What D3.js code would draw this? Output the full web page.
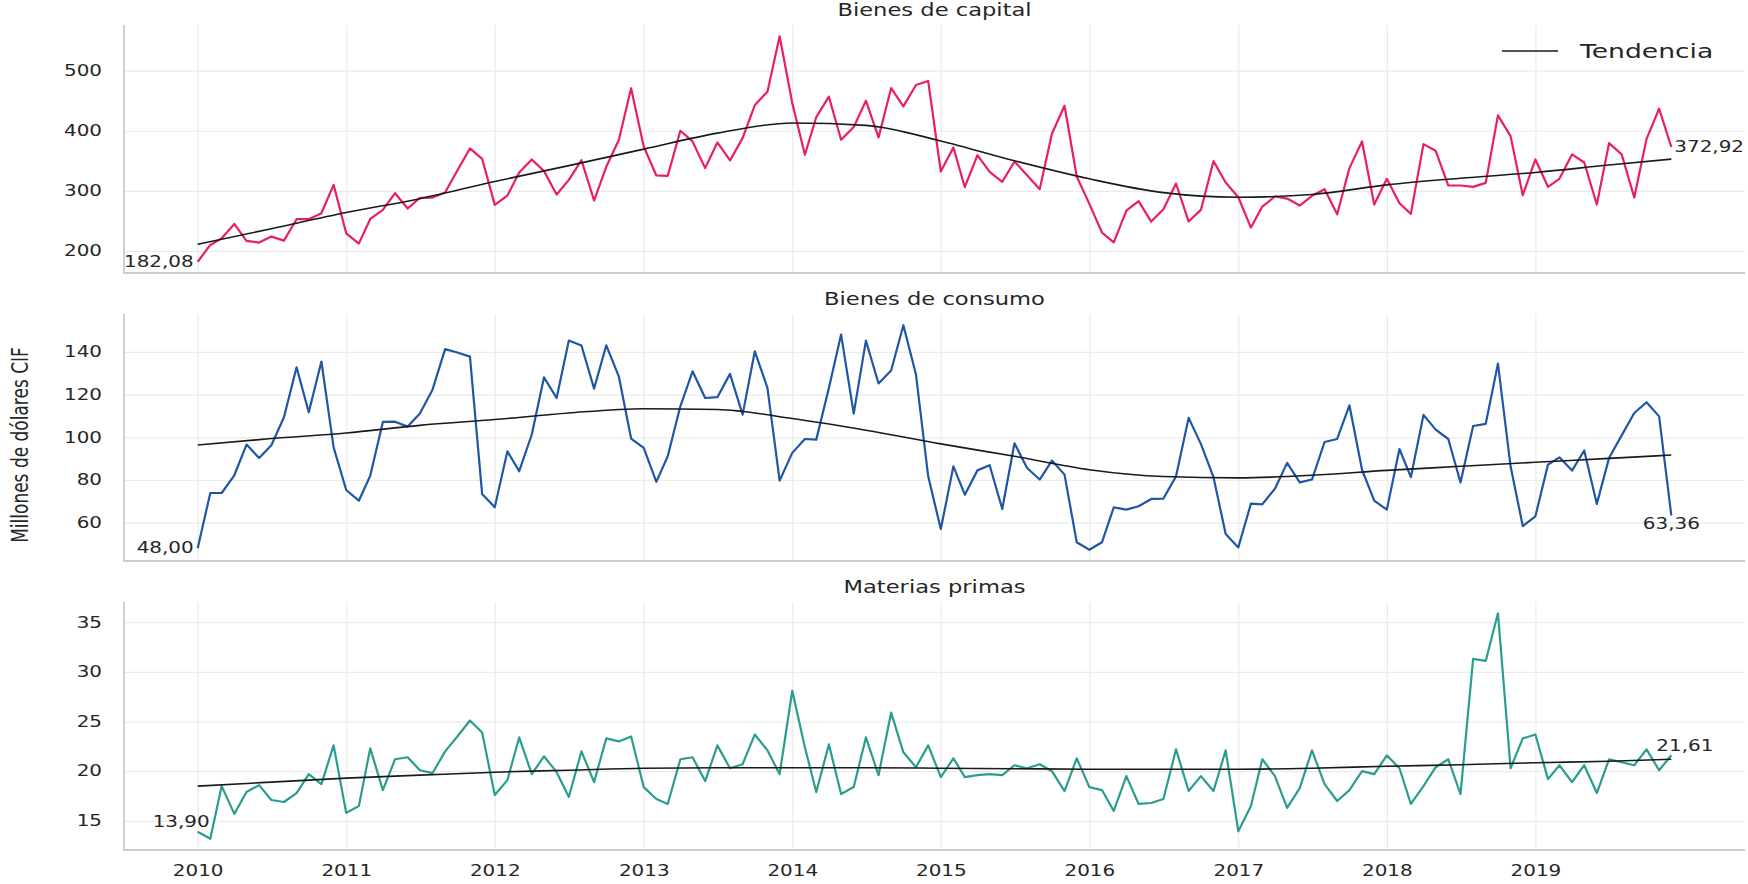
<!DOCTYPE html>
<html>
<head>
<meta charset="utf-8">
<script src="https://cdn.jsdelivr.net/npm/d3@7"></script>
<style>
body { margin: 0; background: #fff; }
text { font-family: "DejaVu Sans", sans-serif; fill: #262626; }
</style>
</head>
<body>
<div id="vis"></div>
<script>
//Monthly values, 2010-01 .. 2019-12 (millones de dólares CIF)
var capital = [
  182.08, 210, 221, 245, 216.7, 213.9, 223.9, 217.2, 252.8, 252.8, 262.8, 310,
  229.4, 212.2, 253.3, 268.3, 296.1, 270.6, 288.3, 288.9, 297.2, 334, 370.6, 353.3,
  276.7, 292.2, 330.6, 352.2, 332.8, 293.9, 318.3, 351.1, 283.9, 340, 385, 470.6,
  373.9, 325.6, 325, 400, 382.2, 337.8, 380.6, 350.6, 387.8, 442.8, 465, 557.2,
  446.1, 360, 422.8, 456.7, 385, 406.1, 450, 388.9, 471.1, 440.6, 476.1, 482.8,
  332.2, 372.2, 306.1, 359.4, 331.7, 315, 348.9, 326.1, 302.8, 395, 441.7, 323.9,
  278.3, 230.6, 214.4, 267.2, 282.8, 248.9, 269.4, 312.2, 248.9, 268.3, 349.4, 313.9,
  289.4, 238.9, 273.9, 290.6, 287.2, 275.6, 291.7, 302.8, 261.1, 337.8, 382.2, 277.2,
  320, 279.4, 261.7, 377.8, 366.7, 308.9, 308.9, 306.7, 313.3, 425.6, 391.1, 292.8,
  352.2, 306.7, 320, 360.6, 347.2, 277.2, 379.4, 360.6, 288.9, 386.1, 436.7, 372.92
];
var consumo = [
  48.00, 73.9, 73.9, 82.2, 96.6, 90.3, 96.3, 109.4, 132.8, 111.7, 135.5, 95.3,
  75.3, 70.3, 82, 107.2, 107.3, 105, 111.1, 122.3, 141.3, 139.7, 137.8, 73.4,
  67.2, 93.4, 84.1, 101.3, 128.1, 118.4, 145.3, 143, 122.8, 143.1, 128.4, 99.4,
  95, 79.1, 91.1, 114.5, 130.9, 118.4, 118.8, 129.7, 110.6, 140.3, 123.1, 79.7,
  92.7, 99.2, 98.9, 123.1, 148.1, 111.1, 145.3, 125.2, 131.3, 152.5, 129.4, 81.7,
  57, 86.4, 73.1, 84.5, 86.9, 66.4, 97.2, 85.6, 80.2, 89.1, 82.5, 50.8,
  47.3, 50.8, 67.2, 66.1, 67.7, 71.1, 71.3, 81.7, 109.1, 96.9, 81.3, 54.7,
  48.4, 68.9, 68.6, 75.9, 88, 78.9, 80.2, 97.8, 99.2, 115, 84.8, 70.3,
  66.1, 94.5, 81.3, 110.5, 103.6, 99.2, 78.8, 105.3, 106.3, 134.5, 86.4, 58.4,
  63, 87.2, 90.6, 84.4, 93.8, 68.8, 90.3, 100.9, 111.4, 116.4, 109.8, 63.36
];
var materias = [
  13.90, 13.2, 18.5, 15.7, 17.9, 18.6, 17.1, 16.9, 17.8, 19.7, 18.7, 22.6,
  15.8, 16.5, 22.3, 18.1, 21.2, 21.4, 20.1, 19.8, 22, 23.5, 25.1, 23.9,
  17.6, 19.1, 23.4, 19.7, 21.5, 19.9, 17.4, 22, 18.9, 23.3, 23, 23.5,
  18.4, 17.2, 16.7, 21.2, 21.4, 19, 22.6, 20.3, 20.7, 23.7, 22.1, 19.7,
  28.1, 22.4, 17.9, 22.7, 17.7, 18.4, 23.4, 19.6, 25.9, 21.9, 20.4, 22.6,
  19.4, 21.3, 19.4, 19.6, 19.7, 19.6, 20.6, 20.3, 20.7, 20, 18, 21.3,
  18.4, 18.1, 16, 19.5, 16.7, 16.8, 17.2, 22.2, 18, 19.5, 18, 22.1,
  13.95, 16.5, 21.2, 19.5, 16.3, 18.3, 22.1, 18.7, 17, 18.1, 20, 19.7,
  21.6, 20.3, 16.7, 18.5, 20.4, 21.2, 17.7, 31.3, 31.1, 35.9, 20.3, 23.3,
  23.7, 19.2, 20.6, 18.9, 20.6, 17.8, 21.2, 20.9, 20.6, 22.2, 20.1, 21.61
];

//Trend read every six months (month index from 2010-01)
var trendMonths = [0, 6, 12, 18, 24, 30, 36, 42, 48, 54, 60, 66, 72, 78, 84, 90, 96, 102, 108, 114, 119];
var capitalTrend = [211, 237, 264, 287, 315.6, 342, 369.4, 396, 413, 409, 383, 350, 320, 297, 289.4, 294, 310, 321, 330.6, 343, 352.8];
var consumoTrend = [96.4, 99.4, 102, 105.6, 108.3, 111.4, 113.4, 113, 108.8, 103.3, 96.9, 91.1, 84.8, 81.6, 81, 82.2, 84.5, 86.4, 88.3, 90.1, 91.7];
var materiasTrend = [18.5, 18.9, 19.3, 19.6, 19.9, 20.1, 20.3, 20.35, 20.35, 20.35, 20.3, 20.25, 20.2, 20.2, 20.2, 20.3, 20.5, 20.65, 20.85, 21.0, 21.2];

var titles = ["Bienes de capital", "Bienes de consumo", "Materias primas"];
var yTicks = [[200, 300, 400, 500], [60, 80, 100, 120, 140], [15, 20, 25, 30, 35]];
var years = [2010, 2011, 2012, 2013, 2014, 2015, 2016, 2017, 2018, 2019];
var legendLabel = "Tendencia";
var yLabel = "Millones de dólares CIF";

var series = [capital, consumo, materias];
var trends = [capitalTrend, consumoTrend, materiasTrend];

var w = 1748;
var h = 884;
var sx = 1.33;   // the reference text is stretched sideways
var left = 124, right = 1745;
var panels = [{top: 25, bottom: 273}, {top: 314, bottom: 561}, {top: 602, bottom: 850}];
var colors = ["#e91e63", "#1f56a5", "#2a9d8f"];
// where the first / last value labels sit, relative to their point
var labelPos = [
  [{dx: -4, dy: 5, anchor: "end"}, {dx: 3, dy: 4.5, anchor: "start"}],
  [{dx: -4, dy: 4.5, anchor: "end"}, {dx: 0, dy: 14, anchor: "middle"}],
  [{dx: 12, dy: -5, anchor: "end"}, {dx: -15, dy: -4.5, anchor: "start"}]
];

var es = d3.formatLocale({decimal: ",", thousands: ".", grouping: [3], currency: ["", ""]});
var fmt = es.format(".2f");

var months = d3.timeMonth.range(new Date(2010, 0, 1), new Date(2020, 0, 1));
var yearDates = years.map(y => new Date(y, 0, 1));

let svg = d3.select("#vis")
            .append("svg")
            .attr("width", w)
            .attr("height", h);

//x scale with 5% margins like matplotlib
var t0 = months[0], t1 = months[months.length - 1];
var tpad = (t1 - t0) * 0.05;
var x_scale = d3.scaleTime()
                .domain([new Date(+t0 - tpad), new Date(+t1 + tpad)])
                .range([left, right]);

function stretch(x, y) {
  return `translate(${x},${y}) scale(${sx},1)`;
}

panels.forEach(function(p, k) {
  var vals = series[k];
  var tr = trendMonths.map((m, i) => ({m: m, v: trends[k][i]}));
  var all = vals.concat(trends[k]);
  var lo = d3.min(all), hi = d3.max(all);
  var ypad = (hi - lo) * 0.05;

  var y_scale = d3.scaleLinear()
                  .domain([lo - ypad, hi + ypad])
                  .range([p.bottom, p.top]);

  var g = svg.append("g");

  //grid
  var gy = g.append("g")
    .attr("transform", `translate(${left},0)`)
    .call(d3.axisLeft(y_scale).tickValues(yTicks[k]).tickSize(-(right - left)).tickFormat(""));
  gy.select(".domain").remove();
  gy.selectAll("line").attr("stroke", "#ebebeb").attr("stroke-width", 1.2);

  var gx = g.append("g")
    .attr("transform", `translate(0,${p.bottom})`)
    .call(d3.axisBottom(x_scale).tickValues(yearDates).tickSize(-(p.bottom - p.top)).tickFormat(""));
  gx.select(".domain").remove();
  gx.selectAll("line").attr("stroke", "#ebebeb").attr("stroke-width", 1.2);

  //spines
  g.append("line")
   .attr("x1", left).attr("x2", left)
   .attr("y1", p.top).attr("y2", p.bottom + 1)
   .attr("stroke", "#cccccc").attr("stroke-width", 1.8);
  g.append("line")
   .attr("x1", left).attr("x2", right)
   .attr("y1", p.bottom).attr("y2", p.bottom)
   .attr("stroke", "#cccccc").attr("stroke-width", 1.8);

  //y tick labels
  var ay = g.append("g")
    .attr("transform", `translate(${left},0)`)
    .call(d3.axisLeft(y_scale).tickValues(yTicks[k]).tickSize(0).tickPadding(22 / sx));
  ay.select(".domain").remove();
  ay.selectAll("text")
    .attr("transform", `scale(${sx},1)`)
    .style("font-size", "15px")
    .attr("fill", "#262626");

  //x tick labels only on the last panel
  if (k == panels.length - 1) {
    var ax = g.append("g")
      .attr("transform", `translate(0,${p.bottom})`)
      .call(d3.axisBottom(x_scale).tickValues(yearDates).tickSize(0).tickFormat(d3.timeFormat("%Y")));
    ax.select(".domain").remove();
    ax.selectAll("text")
      .attr("y", 26).attr("dy", 0)
      .attr("transform", `scale(${sx},1)`)
      .style("font-size", "15px")
      .attr("fill", "#262626");
  }

  //title
  g.append("text")
   .attr("transform", stretch((left + right) / 2, p.top - 9))
   .attr("text-anchor", "middle")
   .style("font-size", "17px")
   .text(titles[k]);

  //series line
  var line = d3.line()
               .x((d, i) => x_scale(months[i]))
               .y(d => y_scale(d));
  g.append("path")
   .datum(vals)
   .attr("d", line)
   .attr("fill", "none")
   .attr("stroke", colors[k])
   .attr("stroke-width", 2.2)
   .attr("stroke-linejoin", "round");

  //trend
  var tline = d3.line()
                .curve(d3.curveMonotoneX)
                .x(d => x_scale(months[d.m]))
                .y(d => y_scale(d.v));
  g.append("path")
   .datum(tr)
   .attr("d", tline)
   .attr("fill", "none")
   .attr("stroke", "#1a1a1a")
   .attr("stroke-width", 1.6);

  //first and last value labels
  [0, vals.length - 1].forEach(function(i, j) {
    var lp = labelPos[k][j];
    g.append("text")
     .attr("transform", stretch(x_scale(months[i]) + lp.dx, y_scale(vals[i]) + lp.dy))
     .attr("text-anchor", lp.anchor)
     .style("font-size", "15px")
     .text(fmt(vals[i]));
  });

  //legend in the first panel
  if (k == 0) {
    g.append("line")
     .attr("x1", right - 243).attr("x2", right - 187)
     .attr("y1", p.top + 26).attr("y2", p.top + 26)
     .attr("stroke", "#1a1a1a").attr("stroke-width", 1.6);
    g.append("text")
     .attr("transform", stretch(right - 165, p.top + 33))
     .style("font-size", "20px")
     .text(legendLabel);
  }
});

//shared y label
svg.append("text")
   .attr("transform", `translate(28,445) scale(${sx},1) rotate(-90)`)
   .attr("text-anchor", "middle")
   .style("font-size", "17px")
   .text(yLabel);
</script>
</body>
</html>
